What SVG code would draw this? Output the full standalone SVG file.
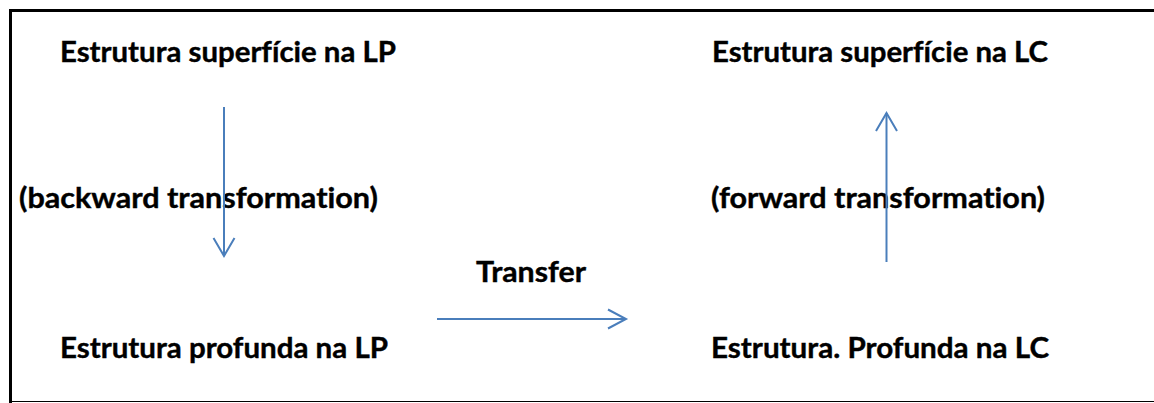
<svg xmlns="http://www.w3.org/2000/svg" width="1154" height="403" viewBox="0 0 1154 403">
<style>
.t{font-family:Lato,"Open Sans","Liberation Sans",sans-serif;font-weight:bold;font-size:29px;fill:#000;stroke:#000;stroke-width:0.4;font-variant-ligatures:none;font-feature-settings:"liga" 0}
.c{fill:none;stroke:#4A7EBB;stroke-width:2}
</style>
<rect x="0" y="0" width="1154" height="403" fill="#fff"/>
<g id="frame">
<path d="M10.5,403 V10.5 H1154" fill="none" stroke="#000" stroke-width="3"/>
<line x1="10" y1="401.5" x2="1154" y2="401.5" stroke="#000" stroke-width="1"/>
</g>
<g id="n1"><text class="t" x="60" y="62" textLength="336" lengthAdjust="spacingAndGlyphs">Estrutura superfície na LP</text></g>
<g id="n2"><text class="t" x="712" y="62" textLength="336" lengthAdjust="spacingAndGlyphs">Estrutura superfície na LC</text></g>
<g id="n3"><text class="t" x="19" y="208" textLength="359" lengthAdjust="spacingAndGlyphs">(backward transformation)</text></g>
<g id="n4"><text class="t" x="711" y="208" textLength="334" lengthAdjust="spacingAndGlyphs">(forward transformation)</text></g>
<g id="n5"><text class="t" x="476" y="282" textLength="110" lengthAdjust="spacingAndGlyphs">Transfer</text></g>
<g id="n6"><text class="t" x="60" y="358" textLength="328" lengthAdjust="spacingAndGlyphs">Estrutura profunda na LP</text></g>
<g id="n7"><text class="t" x="711" y="358" textLength="338" lengthAdjust="spacingAndGlyphs">Estrutura. Profunda na LC</text></g>
<g id="connectors">
<line class="c" x1="224" y1="107" x2="224" y2="256"/>
<polyline class="c" points="213.5,238 224,256 234.5,238"/>
<line class="c" x1="437" y1="319" x2="626" y2="319"/>
<polyline class="c" points="608,309.5 626,319 608,328.5"/>
<line class="c" x1="886.5" y1="262" x2="886.5" y2="113"/>
<polyline class="c" points="876,131 886.5,113 897,131"/>
</g>
</svg>
